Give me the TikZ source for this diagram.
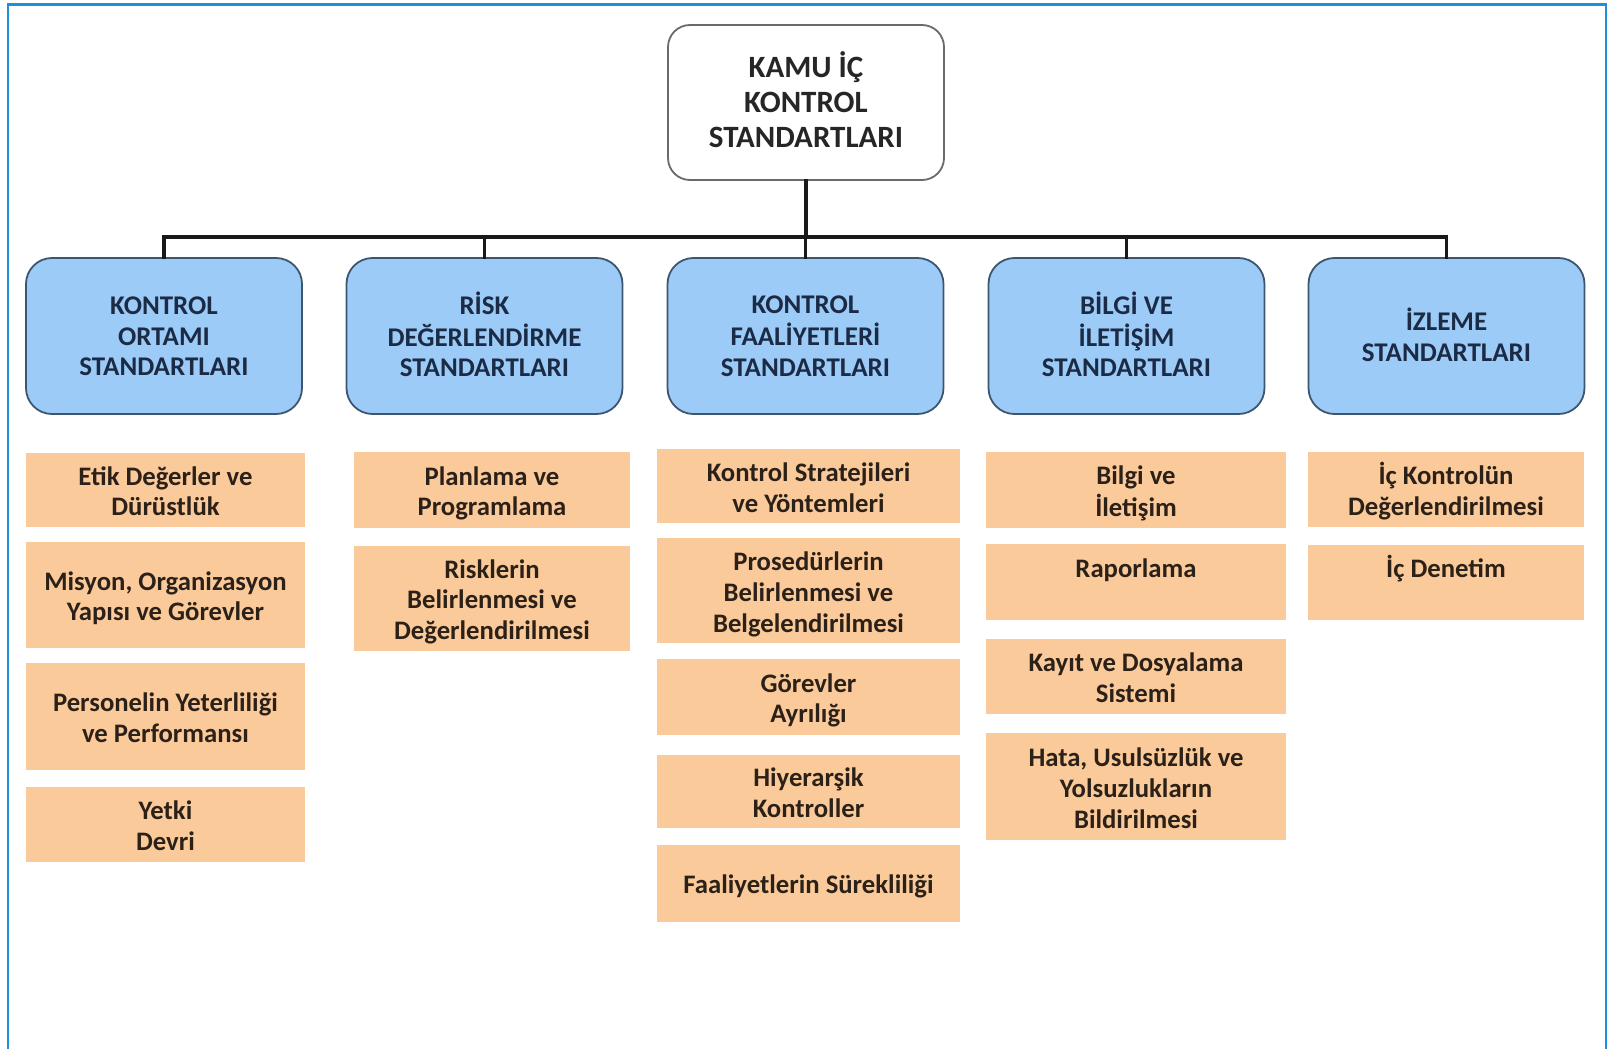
\documentclass[tikz,border=0pt]{standalone}
\usepackage{fontspec}
\setmainfont{Carlito}
\definecolor{frameblue}{HTML}{1E8FDC}
\definecolor{headfill}{HTML}{9DCBF7}
\definecolor{headdraw}{HTML}{3D5670}
\definecolor{headtext}{HTML}{1C2B45}
\definecolor{itemfill}{HTML}{FBCA9A}
\definecolor{itemtext}{HTML}{2B2118}
\definecolor{rootdraw}{HTML}{6A6A6A}
% centred stack of lines with evenly spaced baselines; the optional
% argument is extra room above, which lowers the lines by half of it
\newcommand\cellstack[2][8.5pt]{%
  \raisebox{0pt}[\dimexpr\height+#1\relax][\depth]{\begin{tabular}{@{}c@{}}#2\end{tabular}}}
\tikzset{
  rootbox/.style={draw=rootdraw, line width=1.8pt, fill=white, rounded corners=22pt,
    minimum width=276pt, minimum height=155pt, inner sep=0pt,
    font=\fontsize{31}{35}\selectfont\bfseries, text=black!85},
  headbox/.style={draw=headdraw, line width=1.8pt, fill=headfill, rounded corners=26pt,
    minimum width=276pt, minimum height=156pt, inner sep=0pt,
    font=\fontsize{27}{30.8}\selectfont\bfseries, text=headtext},
  itembox/.style={fill=itemfill, inner sep=0pt,
    font=\fontsize{26.7}{30.8}\selectfont\bfseries, text=itemtext},
  link/.style={line width=3.6pt, black!90, line cap=rect}
}
\begin{document}
\begin{tikzpicture}[x=1pt,y=-1pt]
\useasboundingbox (0,0) rectangle (1610,1049);
% outer frame, open at the bottom
\draw[frameblue, line width=2.4pt] (8,1052) -- (8,4.5) -- (1606,4.5) -- (1606,1052);

% root
\node[rootbox] (root) at (806,102.5) {\cellstack[5pt]{KAMU İÇ\\KONTROL\\STANDARTLARI}};

% the five standard groups
\node[headbox] (h1) at (164,336)    {\cellstack[6pt]{KONTROL\\ORTAMI\\STANDARTLARI}};
\node[headbox] (h2) at (484.5,336)  {\cellstack[6pt]{RİSK\\DEĞERLENDİRME\\STANDARTLARI}};
\node[headbox] (h3) at (805.5,336)  {\cellstack[6pt]{KONTROL\\FAALİYETLERİ\\STANDARTLARI}};
\node[headbox] (h4) at (1126.5,336) {\cellstack[6pt]{BİLGİ VE\\İLETİŞİM\\STANDARTLARI}};
\node[headbox] (h5) at (1446.5,336) {\cellstack[6pt]{İZLEME\\STANDARTLARI}};

% connectors
\coordinate (bar) at (806,237);
\draw[link] (root.south) -- (bar);
\draw[link] (h1.north) |- (bar) -| (h5.north);
\foreach \h in {h2,h3,h4}{
  \draw[link] (bar -| \h.north) -- (\h.north);
}

% column 1
\node[itembox, minimum width=279pt, minimum height=74pt]  (c1a) at (165.5,490)   {\cellstack{Etik Değerler ve\\Dürüstlük}};
\node[itembox, minimum width=279pt, minimum height=106pt] (c1b) at (165.5,595)   {\cellstack{Misyon, Organizasyon\\Yapısı ve Görevler}};
\node[itembox, minimum width=279pt, minimum height=107pt] (c1c) at (165.5,716.5) {\cellstack{Personelin Yeterliliği\\ve Performansı}};
\node[itembox, minimum width=279pt, minimum height=75pt]  (c1d) at (165.5,824.5) {\cellstack{Yetki\\Devri}};

% column 2
\node[itembox, minimum width=276pt, minimum height=76pt]  (c2a) at (492,490)   {\cellstack{Planlama ve\\Programlama}};
\node[itembox, minimum width=276pt, minimum height=105pt] (c2b) at (492,598.5) {\cellstack{Risklerin\\Belirlenmesi ve\\Değerlendirilmesi}};

% column 3
\node[itembox, minimum width=303pt, minimum height=74pt]  (c3a) at (808.5,486)   {\cellstack[10pt]{Kontrol Stratejileri\\ve Yöntemleri}};
\node[itembox, minimum width=303pt, minimum height=105pt] (c3b) at (808.5,590.5) {\cellstack[10pt]{Prosedürlerin\\Belirlenmesi ve\\Belgelendirilmesi}};
\node[itembox, minimum width=303pt, minimum height=76pt]  (c3c) at (808.5,697)   {\cellstack{Görevler\\Ayrılığı}};
\node[itembox, minimum width=303pt, minimum height=73pt]  (c3d) at (808.5,791.5) {\cellstack{Hiyerarşik\\Kontroller}};
\node[itembox, minimum width=303pt, minimum height=77pt]  (c3e) at (808.5,883.5) {\cellstack{Faaliyetlerin Sürekliliği}};

% column 4
\node[itembox, minimum width=300pt, minimum height=76pt]  (c4a) at (1136,490)   {\cellstack{Bilgi ve\\İletişim}};
\node[itembox, minimum width=300pt, minimum height=76pt]  (c4b) at (1136,582)   {\cellstack[10pt]{Raporlama\\\phantom{X}}};
\node[itembox, minimum width=300pt, minimum height=75pt]  (c4c) at (1136,676.5) {\cellstack{Kayıt ve Dosyalama\\Sistemi}};
\node[itembox, minimum width=300pt, minimum height=107pt] (c4d) at (1136,786.5) {\cellstack[10pt]{Hata, Usulsüzlük ve\\Yolsuzlukların\\Bildirilmesi}};

% column 5
\node[itembox, minimum width=276pt, minimum height=75pt]  (c5a) at (1446,489.5) {\cellstack{İç Kontrolün\\Değerlendirilmesi}};
\node[itembox, minimum width=276pt, minimum height=75pt]  (c5b) at (1446,582.5) {\cellstack{İç Denetim\\\phantom{X}}};
\end{tikzpicture}
\end{document}
